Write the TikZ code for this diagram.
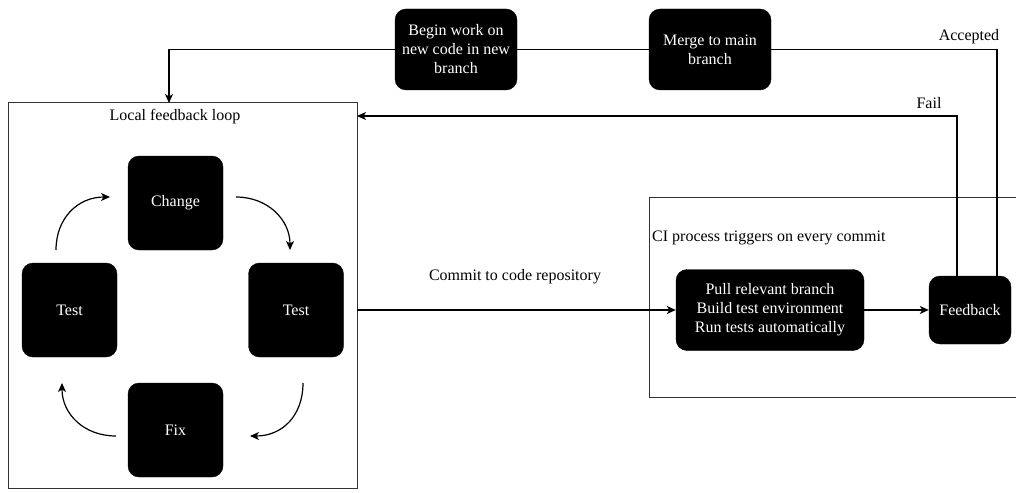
\documentclass[tikz,border=0pt]{standalone}
\usepackage{fontspec}
\setmainfont{Liberation Serif}
\usetikzlibrary{arrows.meta}
\begin{document}
\begin{tikzpicture}[x=1pt,y=-1pt,
  blk/.style={draw=black,fill=black,rounded corners=11pt,text=white,align=center,inner sep=0pt,font=\fontsize{16}{19}\selectfont},
  lbl/.style={font=\fontsize{16}{19}\selectfont,inner sep=0pt},
  conn/.style={line width=1.2pt},
  arr/.style={conn,-{Stealth[length=9pt,width=8pt,inset=2.5pt]}},
  frame/.style={draw=black!80,line width=1pt}]
\useasboundingbox (0,0) rectangle (1016,492);
% top row
\node[blk,minimum width=122pt,minimum height=81pt] (begin) at (456,49.5) {Begin work on\\new code in new\\branch};
\node[blk,minimum width=122pt,minimum height=81pt] (merge) at (710,49.5) {Merge to main\\branch};
% local loop frame
\node[frame,minimum width=349pt,minimum height=385pt,inner sep=0pt] (local) at (182.5,295.5) {};
\node[lbl] (localt) at (175,117) {Local feedback loop};
\node[blk,minimum width=95pt,minimum height=94pt] (change) at (175.5,203) {Change};
\node[blk,minimum width=95pt,minimum height=94pt] (testr) at (296,310) {Test};
\node[blk,minimum width=95pt,minimum height=94pt] (testl) at (69.5,310) {Test};
\node[blk,minimum width=95pt,minimum height=94pt] (fix) at (175.5,430) {Fix};
% CI frame
\coordinate (ciA) at (1016,197);
\coordinate (ciB) at (649,397);
\coordinate (ciC) at (1016,397);
\draw[frame] (ciA) -| (ciB) -- (ciC);
\node[lbl,anchor=west] (cit) at (652,238) {CI process triggers on every commit};
\node[blk,minimum width=188pt,minimum height=81pt] (pull) at (770,310) {Pull relevant branch\\Build test environment\\Run tests automatically};
\node[blk,minimum width=82pt,minimum height=68pt] (fb) at (970,310) {Feedback};
% labels
\node[lbl] (acc) at (969,37) {Accepted};
\node[lbl] (fail) at (929,103) {Fail};
\node[lbl] (commit) at (515,277) {Commit to code repository};
% connectors
\coordinate (inTop) at (169,103);
\draw[arr] (begin.west) -| (inTop);
\draw[conn] (begin.east) -- (merge.west);
\coordinate (accX) at (997,276);
\draw[conn] (merge.east) -| (accX);
\coordinate (failX) at (957,276);
\coordinate (failIn) at (357,116);
\draw[arr] (failX) |- (failIn);
\coordinate (commitStart) at (357,310);
\draw[arr] (commitStart) -- (pull.west);
\draw[arr] (pull.east) -- (fb.west);
% loop arrows
\coordinate (a1) at (236,197); \coordinate (a2) at (290,250);
\coordinate (b1) at (303,383); \coordinate (b2) at (250,436);
\coordinate (c1) at (116,436); \coordinate (c2) at (62,383);
\coordinate (d1) at (56,250);  \coordinate (d2) at (110,197);
\draw[arr] (a1) .. controls (268,197) and (290,220) .. (a2);
\draw[arr] (b1) .. controls (303,416) and (282,436) .. (b2);
\draw[arr] (c1) .. controls (84,436) and (62,414) .. (c2);
\draw[arr] (d1) .. controls (56,218) and (78,197) .. (d2);
\end{tikzpicture}
\end{document}
